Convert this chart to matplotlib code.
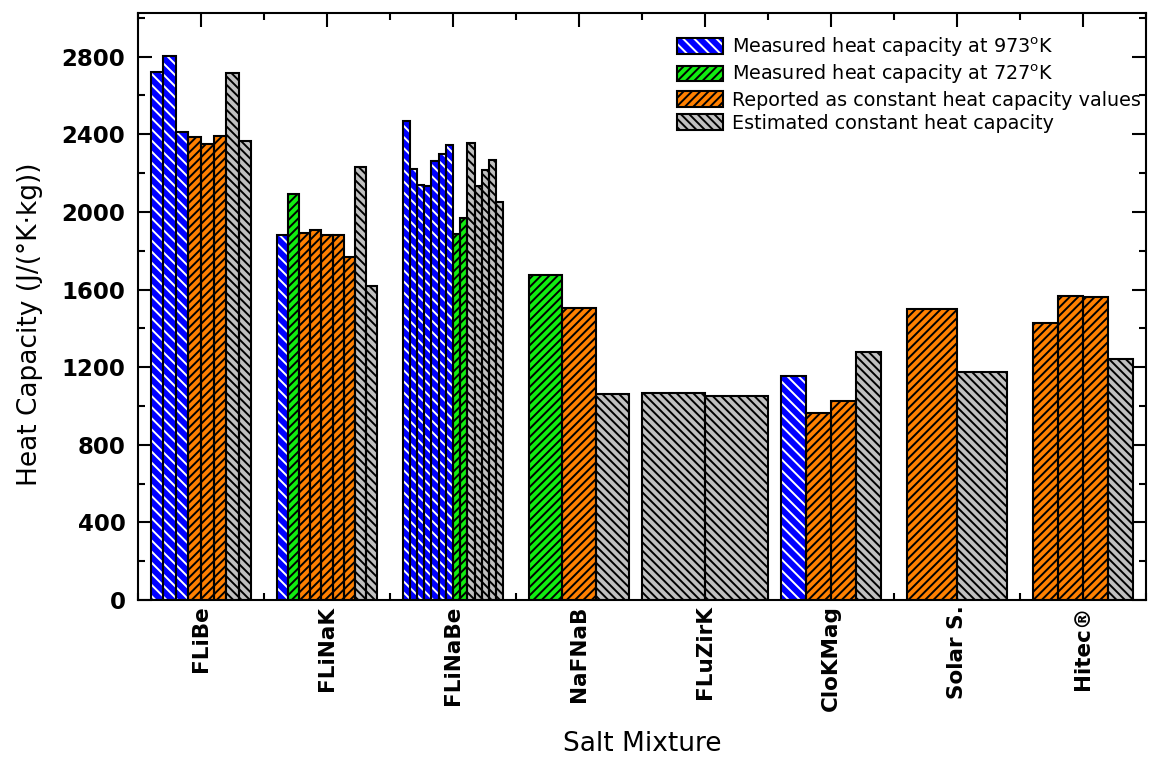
import numpy as np
import matplotlib
matplotlib.use("Agg")
import matplotlib.pyplot as plt
from matplotlib.patches import Patch
from matplotlib.ticker import MultipleLocator, FixedLocator

# salt mixtures along the x axis
salts = ["FLiBe", "FLiNaK", "FLiNaBe", "NaFNaB", "FLuZirK", "CloKMag", "Solar S.", "Hitec®"]

# heat capacity values per mixture, J/(K kg), with the source of each value
flibe_cp = [2720, 2805, 2410, 2385, 2350, 2390, 2715, 2365]
flibe_src = ["m973", "m973", "m973", "rep", "rep", "rep", "est", "est"]

flinak_cp = [1880, 2090, 1890, 1905, 1880, 1880, 1770, 2230, 1620]
flinak_src = ["m973", "m727", "rep", "rep", "rep", "rep", "rep", "est", "est"]

flinabe_cp = [2470, 2220, 2140, 2135, 2260, 2300, 2345, 1885, 1970,
              2355, 2135, 2215, 2265, 2050]
flinabe_src = ["m973"] * 7 + ["m727"] * 2 + ["est"] * 5

nafnab_cp = [1675, 1505, 1060]
nafnab_src = ["m727", "rep", "est"]

fluzirk_cp = [1065, 1050]
fluzirk_src = ["est", "est"]

clokmag_cp = [1155, 965, 1025, 1280]
clokmag_src = ["m973", "rep", "rep", "est"]

solar_cp = [1500, 1175]
solar_src = ["rep", "est"]

hitec_cp = [1425, 1565, 1560, 1240]
hitec_src = ["rep", "rep", "rep", "est"]

legend_labels = {
    "m973": "Measured heat capacity at 973$^{\\mathrm{o}}$K",
    "m727": "Measured heat capacity at 727$^{\\mathrm{o}}$K",
    "rep": "Reported as constant heat capacity values",
    "est": "Estimated constant heat capacity",
}

groups = [(flibe_cp, flibe_src), (flinak_cp, flinak_src), (flinabe_cp, flinabe_src),
          (nafnab_cp, nafnab_src), (fluzirk_cp, fluzirk_src), (clokmag_cp, clokmag_src),
          (solar_cp, solar_src), (hitec_cp, hitec_src)]

# fill colour, hatch, hatch colour
styles = {
    "m973": ("#0000FF", "\\\\\\", "white"),
    "m727": ("#11EE11", "////", "black"),
    "rep": ("#FF8000", "////", "black"),
    "est": ("#C0C0C0", "\\\\\\\\", "black"),
}
group_span = [0.8, 0.8, 0.8, 0.8, 1.0, 0.8, 0.8, 0.8]

plt.rcParams["font.family"] = "DejaVu Sans"
plt.rcParams["hatch.linewidth"] = 1.4

fig = plt.figure(figsize=(11.49, 7.6), dpi=100)
ax = fig.add_axes([0.1201, 0.2105, 0.8773, 0.7724])

for i, (vals, srcs) in enumerate(groups):
    n = len(vals)
    w = group_span[i] / n
    xs = i - group_span[i] / 2 + w * (np.arange(n) + 0.5)
    for x, v, s in zip(xs, vals, srcs):
        fc, hatch, hc = styles[s]
        ax.bar(x, v, width=w, color=fc, hatch=hatch, edgecolor=hc, linewidth=0, zorder=2)
        ax.bar(x, v, width=w, fill=False, edgecolor="black", linewidth=1.5, zorder=3)

ax.set_xlim(-0.5, len(salts) - 0.5)
ax.set_ylim(0, 3025)
ax.set_axisbelow(True)

ax.xaxis.set_major_locator(FixedLocator(np.arange(len(salts))))
ax.xaxis.set_minor_locator(FixedLocator(np.arange(len(salts) + 1) - 0.5))
ax.set_xticklabels(salts, rotation=90, fontsize=15.5, fontweight="bold")
ax.yaxis.set_major_locator(MultipleLocator(400))
ax.yaxis.set_minor_locator(MultipleLocator(200))
for lab in ax.get_yticklabels():
    lab.set_fontsize(16.5)
    lab.set_fontweight("bold")

ax.tick_params(which="both", direction="in", top=True, right=True, width=1.5, color="black")
ax.tick_params(which="major", length=10)
ax.tick_params(which="minor", length=5)
ax.tick_params(axis="y", pad=9)
ax.tick_params(axis="x", pad=4)
for sp in ax.spines.values():
    sp.set_linewidth(1.5)

ax.set_xlabel("Salt Mixture", fontsize=19, labelpad=14)
ax.set_ylabel("Heat Capacity (J/(°K·kg))", fontsize=19)
ax.yaxis.set_label_coords(-0.094, 0.47)

handles = []
labels = []
for key in ["m973", "m727", "rep", "est"]:
    fc, hatch, hc = styles[key]
    fill = Patch(facecolor=fc, hatch=hatch, edgecolor=hc, linewidth=0)
    outline = Patch(fill=False, edgecolor="black", linewidth=1.5)
    handles.append((fill, outline))
    labels.append(legend_labels[key])

ax.legend(handles, labels, loc="upper left", bbox_to_anchor=(0.535, 0.962),
          frameon=False, fontsize=13.8, borderpad=0, handlelength=2.4,
          handleheight=0.85, handletextpad=0.45, labelspacing=0.22, borderaxespad=0)

fig.savefig("out.png", dpi=100)
